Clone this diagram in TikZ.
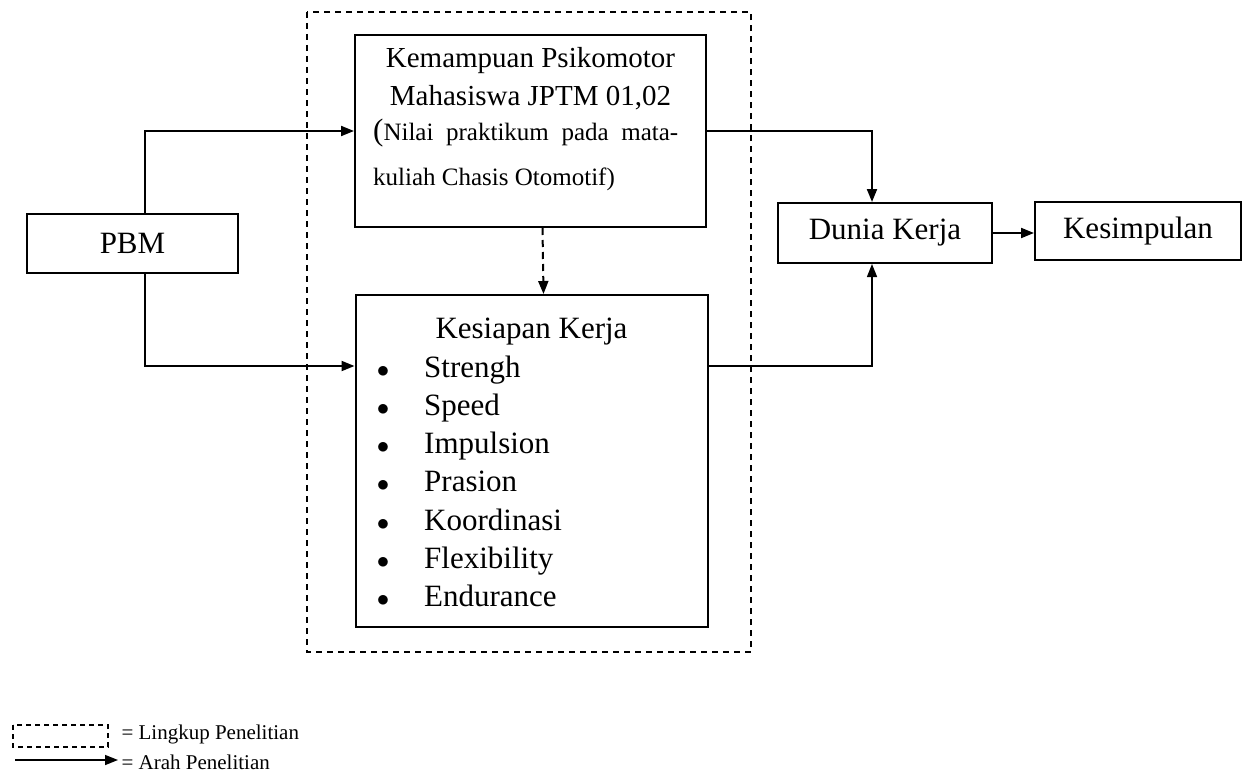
\documentclass[tikz,border=0pt]{standalone}
\usepackage{fontspec}
\setmainfont{Liberation Serif}
\usetikzlibrary{arrows.meta}

\tikzstyle{kotak}=[draw,line width=2pt,inner sep=0pt]
\tikzstyle{besar}=[font=\fontsize{31}{38}\selectfont]
\tikzstyle{judul}=[font=\fontsize{29}{38}\selectfont,anchor=base,inner sep=0pt]
\tikzstyle{ket}=[font=\fontsize{25}{30}\selectfont,anchor=base west,inner sep=0pt]
\tikzstyle{kecil}=[font=\fontsize{21}{24}\selectfont]
\tikzstyle{alur}=[line width=2pt,-{Triangle[length=13pt,width=10pt]}]

\begin{document}
\begin{tikzpicture}[x=1pt,y=-1pt]
  \useasboundingbox (0,0) rectangle (1242,776);
  % lingkup penelitian
  \draw[line width=2pt,dash pattern=on 6pt off 5pt] (307,12) rectangle (751,652);

  \node (pbm) [kotak,besar,minimum width=211pt,minimum height=59pt] at (132.5,243.5) {PBM};
  \node (kem) [kotak,minimum width=351pt,minimum height=192pt] at (530.5,131) {};
  \node (kes) [kotak,minimum width=352pt,minimum height=332pt] at (531.5,461) {};
  \node (dunia) [kotak,besar,minimum width=214pt,minimum height=60pt] at (885,233) {Dunia Kerja};
  \node (simpul) [kotak,besar,minimum width=206pt,minimum height=58pt] at (1138,231) {Kesimpulan};

  % isi kotak psikomotor
  \node (kemjudul1) [judul] at (530.5,67) {Kemampuan Psikomotor};
  \node (kemjudul2) [judul] at (530.5,105) {Mahasiswa JPTM 01,02};
  \node (kemket1) [ket] at (373,140)
    {\hbox to 305pt{{\fontsize{31}{38}\selectfont(}Nilai\hfill praktikum\hfill pada\hfill mata-}};
  \node (kemket2) [ket] at (373,185) {kuliah Chasis Otomotif)};

  % isi kotak kesiapan kerja
  \node (kesjudul) [besar,anchor=base,inner sep=0pt] at (531.5,338) {Kesiapan Kerja};
  \foreach \isi [count=\i] in {Strengh,Speed,Impulsion,Prasion,Koordinasi,Flexibility,Endurance}
    \node (butir\i) [besar,anchor=base west,inner sep=0pt] at (375,338.7+38.3*\i)
      {\makebox[16pt]{$\bullet$}\hspace{33pt}\isi};

  % alur penelitian
  \draw[alur] ([xshift=12pt]pbm.north) |- (kem.west);
  \draw[alur] ([xshift=12pt]pbm.south) |- ([yshift=-72pt]kes.north west);
  \draw[alur] (kem.east) -| ([xshift=-13pt]dunia.north);
  \draw[alur,line width=1.5pt] ([yshift=-72pt]kes.north east) -| ([xshift=-13pt]dunia.south);
  \draw[alur] (dunia.east) -- (dunia.east -| simpul.west);
  \draw[alur,dash pattern=on 7pt off 5pt] ([xshift=12pt]kem.south) -- ([xshift=12pt]kes.north);

  % keterangan
  \draw[line width=1.5pt,dash pattern=on 5pt off 4pt] (13,725) rectangle (108,747);
  \node (ket1) [kecil,anchor=west] at (118,734) {= Lingkup Penelitian};
  \node (ket2) [kecil,anchor=west] at (118,762) {= Arah Penelitian};
  \coordinate (ujung) at (15,760);
  \draw[alur,line width=1.5pt] (ujung) -- (ujung -| ket2.west);
\end{tikzpicture}
\end{document}
